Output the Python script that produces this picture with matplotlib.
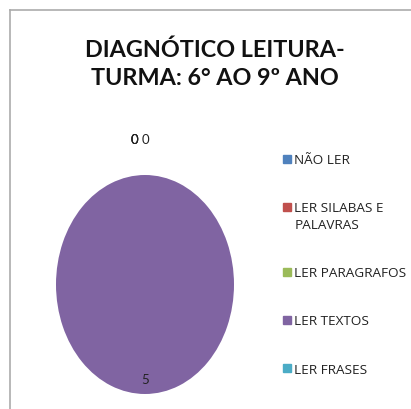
import matplotlib
matplotlib.use("Agg")
import matplotlib.pyplot as plt
from matplotlib.lines import Line2D
from matplotlib.patches import Rectangle
from matplotlib.legend_handler import HandlerPatch
import numpy as np

categories = ["NÃO LER", "LER SILABAS E\nPALAVRAS", "LER PARAGRAFOS", "LER TEXTOS", "LER FRASES"]
values = [0, 0, 0, 5, 0]
colors = ["#4F81BD", "#C0504D", "#9BBB59", "#8064A2", "#4BACC6"]
title = "DIAGNÓTICO LEITURA-\nTURMA: 6° AO 9º ANO"

W, H = 411, 410
fig = plt.figure(figsize=(W / 100, H / 100), dpi=100)
fig.patch.set_facecolor("white")

# border (left and top edges of the chart frame)
fig.add_artist(Line2D([9.5 / W, 9.5 / W], [0, 1 - 11 / H], transform=fig.transFigure,
                      color="#ABABAB", lw=1.2))
fig.add_artist(Line2D([9.5 / W, 1], [1 - 11 / H, 1 - 11 / H], transform=fig.transFigure,
                      color="#ABABAB", lw=1.2))

fig.text(215 / W, 1 - 64 / H, title, ha="center", va="center", fontsize=16.8,
         fontweight="bold", family="Lato", linespacing=1.42, color="#111111")

ax = fig.add_axes([56 / W, 15 / H, 178 / W, 219 / H])
wedges, _ = ax.pie(values, colors=colors, startangle=90, counterclock=False,
                   radius=1, wedgeprops=dict(linewidth=0))
ax.set_aspect("auto")
ax.set_xlim(-1, 1)
ax.set_ylim(-1, 1)

big = int(np.argmax(values))
for i, (w, v) in enumerate(zip(wedges, values)):
    mid = np.deg2rad((w.theta1 + w.theta2) / 2)
    if v == 0:
        r = 1.33
        dx = -0.12 if i < big else 0.0
    else:
        r = 0.86
        dx = 0.0
    ax.text(r * np.cos(mid) + dx, r * np.sin(mid), str(v), ha="center", va="center",
            fontsize=9.5, family="Lato", color="#222222")

LS = 1.4


def top_aligned(legend, orig_handle, xdescent, ydescent, width, height, fontsize):
    nlines = orig_handle.get_label().count("\n") + 1
    shift = (nlines - 1) * 0.5 * LS * fontsize
    return Rectangle((-xdescent, -ydescent + shift), width, height)


handles = [Rectangle((0, 0), 1, 1, color=c, label=l) for c, l in zip(colors, categories)]
hmap = {h: HandlerPatch(patch_func=top_aligned) for h in handles}
leg = fig.legend(handles, categories, loc="upper left", bbox_to_anchor=(278 / W, 1 - 149 / H),
                 frameon=False, handlelength=0.55, handleheight=0.55,
                 handletextpad=0.25, labelspacing=2.6, borderaxespad=0,
                 handler_map=hmap, prop=dict(family="Open Sans", size=9.7))
for t in leg.get_texts():
    t.set_color("#222222")
    t.set_linespacing(LS)

fig.savefig("out.png", dpi=100)
